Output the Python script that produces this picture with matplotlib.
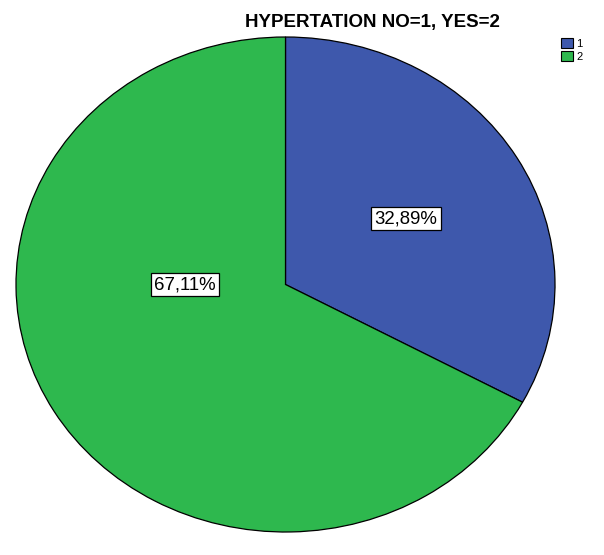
import matplotlib.pyplot as plt
from matplotlib.patches import Patch

# Datos del grafico
categorias = ["1", "2"]
porcentajes = [32.89, 67.11]
colores = ["#3E58AC", "#2EB84E"]
titulo = "HYPERTATION NO=1, YES=2"

plt.rcParams["font.family"] = ["Liberation Sans", "DejaVu Sans"]

fig = plt.figure(figsize=(6.04, 5.55), dpi=100)
ax = fig.add_axes([16 / 604, 23 / 555, 539 / 604, 495 / 555])

wedges, textos, autotextos = ax.pie(
    porcentajes,
    colors=colores,
    startangle=90,
    counterclock=False,
    autopct=lambda p: f"{p:.2f}%".replace(".", ","),
    pctdistance=0.52,
    wedgeprops=dict(edgecolor="black", linewidth=0.9),
    textprops=dict(fontsize=13.4),
)
ax.set_aspect("auto")
ax.set_xlim(-1, 1)
ax.set_ylim(-1, 1)

for t in autotextos:
    t.set_bbox(dict(boxstyle="square,pad=0.18", facecolor="white",
                    edgecolor="black", linewidth=0.9))
# la etiqueta del sector grande va a la izquierda del centro
autotextos[1].set_position((-0.373, 0.0))

fig.text(0.616, 0.96, titulo, ha="center", va="center",
         fontsize=13.5, fontweight="bold")

manejadores = [Patch(facecolor=c, edgecolor="black", linewidth=0.8) for c in colores]
fig.legend(manejadores, categorias, loc="upper left",
           bbox_to_anchor=(0.929, 0.932), frameon=False, fontsize=8,
           handlelength=1.1, handleheight=1.1, handletextpad=0.25,
           labelspacing=0.15, borderpad=0, borderaxespad=0)

plt.savefig("out.png", dpi=100)
